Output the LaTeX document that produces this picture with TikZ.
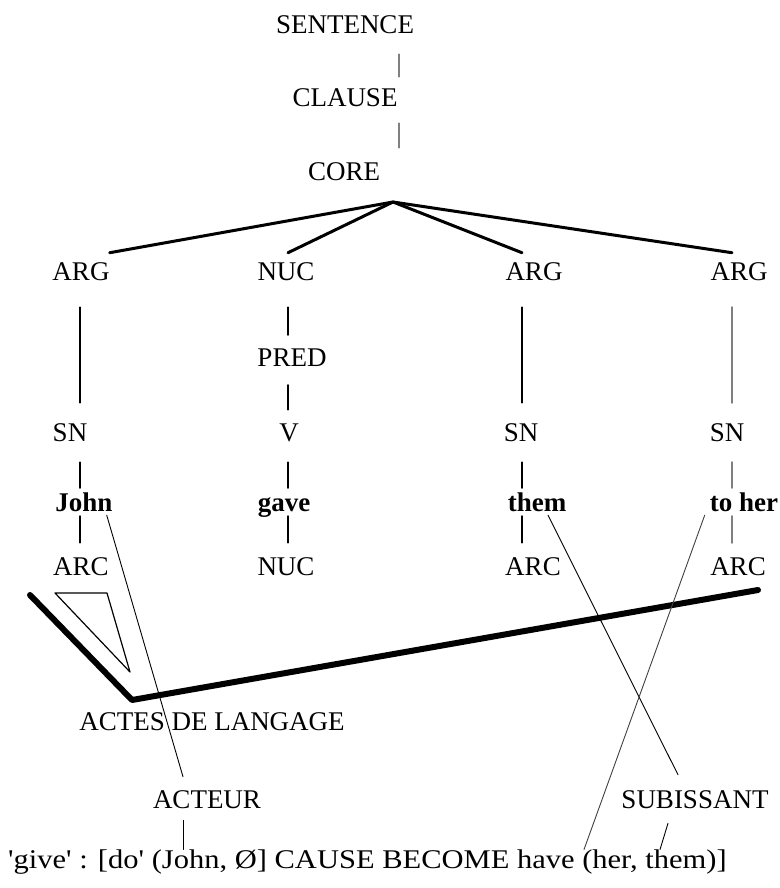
\documentclass[tikz,border=0pt]{standalone}
\usepackage{fontspec}
\setmainfont{Liberation Serif}
\begin{document}
\begin{tikzpicture}[x=1pt, y=-1pt, line join=round, line cap=round,
	lbl/.style={font=\fontsize{27}{30}\selectfont, inner sep=0pt},
	wrd/.style={font=\fontsize{27}{30}\selectfont\bfseries, inner sep=0pt, text height=19pt, text depth=5pt},
	tline/.style={line width=1.9pt},
	gline/.style={line width=1.9pt, gray},
	fan/.style={line width=3pt},
	fine/.style={line width=0.9pt},
	heavy/.style={line width=6pt}]
	\useasboundingbox (0,0) rectangle (779,888);
	%Gán tọa độ.
	\coordinate (top) at (393,202);
	\coordinate (c0) at (399,0);
	\coordinate (c1) at (80,0);
	\coordinate (c2) at (288,0);
	\coordinate (c3) at (522,0);
	\coordinate (c4) at (732,0);
	\coordinate (c5) at (183,0);
	%Các nút.
	\node[lbl] (sent) at (345,25) {SENTENCE};
	\node[lbl] (clause) at (345,98) {CLAUSE};
	\node[lbl] (core) at (344,172) {CORE};
	\node[lbl] (arg1) at (81,272) {ARG};
	\node[lbl] (nuc) at (286,272) {NUC};
	\node[lbl] (arg2) at (534,272) {ARG};
	\node[lbl] (arg3) at (739,272) {ARG};
	\node[lbl] (pred) at (292,358) {PRED};
	\node[lbl] (sn1) at (70,433) {SN};
	\node[lbl] (v) at (289,433) {V};
	\node[lbl] (sn2) at (521,433) {SN};
	\node[lbl] (sn3) at (727,433) {SN};
	\node[wrd] (john) at (84,504) {John};
	\node[wrd] (gave) at (284,504) {gave};
	\node[wrd] (them) at (537,504) {them};
	\node[wrd] (toher) at (744,504) {to her};
	\node[lbl] (arc1) at (81,567) {ARC};
	\node[lbl] (nuc2) at (286,567) {NUC};
	\node[lbl] (arc2) at (533,567) {ARC};
	\node[lbl] (arc3) at (738,567) {ARC};
	\node[lbl] (actes) at (212,722) {ACTES DE LANGAGE};
	\node[lbl] (acteur) at (207,800) {ACTEUR};
	\node[lbl] (subi) at (695,800) {SUBISSANT};
	\node[lbl, anchor=west] (ls) at (8,862) {\scalebox{1.13}[1]{\textquotesingle give\textquotesingle\ : [do\textquotesingle\ (John, Ø] CAUSE BECOME have (her, them)]}};
	%Thân cây.
	\draw[gline, shorten <=20pt, shorten >=12pt] (sent.south -| c0) -- (clause.north -| c0);
	\draw[gline, shorten <=16pt, shorten >=15pt] (clause.south -| c0) -- (core.north -| c0);
	\draw[fan] ([yshift=10pt]arg1.north east) -- (top) -- ([yshift=10pt]arg3.north -| c4);
	\draw[fan] ([yshift=10pt]nuc.north -| c2) -- (top) -- ([yshift=10pt]arg2.north -| c3);
	\foreach \a/\b/\c in {arg1/sn1/c1, arg2/sn2/c3}{
		\draw[tline, shorten <=26pt, shorten >=21pt] (\a.south -| \c) -- (\b.north -| \c);
	}
	\draw[gline, line width=2.2pt, shorten <=26pt, shorten >=21pt] (arg3.south -| c4) -- (sn3.north -| c4);
	\draw[tline, shorten <=26pt, shorten >=14pt] (nuc.south -| c2) -- (pred.north -| c2);
	\draw[tline, shorten <=18pt, shorten >=14pt] (pred.south -| c2) -- (v.north -| c2);
	%Từ và ARC.
	\foreach \a/\b/\d/\c in {sn1/john/arc1/c1, v/gave/nuc2/c2, sn2/them/arc2/c3}{
		\draw[tline, shorten <=20pt, shorten >=4pt] (\a.south -| \c) -- (\b.north -| \c);
		\draw[tline, shorten >=15pt] (\b.south -| \c) -- (\d.north -| \c);
	}
	\draw[gline, line width=2.2pt, shorten <=20pt, shorten >=4pt] (sn3.south -| c4) -- (toher.north -| c4);
	\draw[gline, line width=2.2pt, shorten >=15pt] (toher.south -| c4) -- (arc3.north -| c4);
	%Actes de langage.
	\draw[line width=1.2pt] (55,593) -- (107,593) -- (130,672) -- cycle;
	\draw[heavy] (30,595) -- (132,700) -- (758,590);
	%Liens croisés.
	\draw[fine] ([xshift=-6pt,yshift=1pt]john.south east) -- ([xshift=-24pt,yshift=14pt]acteur.north);
	\draw[fine] ([xshift=11pt,yshift=1pt]them.south) -- ([xshift=-17pt,yshift=16pt]subi.north);
	\draw[fine, black!75] ([xshift=-5pt,yshift=1pt]toher.south west) -- ([xshift=576pt]ls.north west);
	\draw[fine] ([xshift=-27pt,yshift=-14pt]subi.south) -- ([xshift=652pt]ls.north west);
	\draw[fine, shorten <=11pt] (acteur.south -| c5) -- (ls.north -| c5);
\end{tikzpicture}
\end{document}
